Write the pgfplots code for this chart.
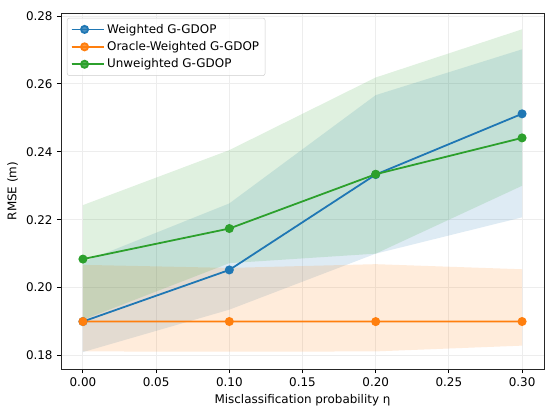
\documentclass[border=0pt]{standalone}
\usepackage{fontspec}
\setmainfont{DejaVu Sans}
\usepackage{pgfplots}
\pgfplotsset{compat=1.18}
\definecolor{tblue}{HTML}{1F77B4}
\definecolor{torange}{HTML}{FF7F0E}
\definecolor{tgreen}{HTML}{2CA02C}
\begin{document}
\fontsize{10}{12}\selectfont
\begin{tikzpicture}
\begin{axis}[
  scale only axis, width=404.7pt, height=298.3pt,
  xmin=-0.015, xmax=0.315, ymin=0.1760, ymax=0.2809,
  xtick={0,0.05,0.1,0.15,0.2,0.25,0.3},
  ytick={0.18,0.2,0.22,0.24,0.26,0.28},
  /pgf/number format/assume math mode=true,
  xticklabel style={/pgf/number format/.cd, fixed, fixed zerofill, precision=2},
  yticklabel style={/pgf/number format/.cd, fixed, fixed zerofill, precision=2},
  scaled ticks=false,
  tick align=outside, tick pos=left, major tick length=3.5pt,
  tick style={line width=0.8pt, black},
  grid=major, grid style={line width=0.8pt, color=black!7},
  axis line style={line width=0.8pt, black!85},
  tick label style={font=\fontsize{10}{12}\selectfont},
  label style={font=\fontsize{10}{12}\selectfont},
  xlabel={Misclassification probability η},
  ylabel={RMSE (m)},
  legend cell align=left,
  legend style={at={(0,1)}, xshift=5pt, yshift=-4pt, anchor=north west,
    draw=black!20, rounded corners=2pt, fill=white, fill opacity=0.8, text opacity=1,
    font=\fontsize{10}{12}\selectfont, row sep=1.5pt, inner sep=3pt},
  legend image code/.code={\path (0pt,0pt) -- (27pt,0pt);\draw[mark repeat=2, mark phase=2, #1] plot coordinates {(0pt,0pt)(10.8pt,0pt)(21.6pt,0pt)};},
]
% bands
\addplot[draw=none, fill=tblue, fill opacity=0.15, forget plot] coordinates {
 (0,0.2075) (0.1,0.2248) (0.2,0.2567) (0.3,0.2702)
 (0.3,0.2207) (0.2,0.2100) (0.1,0.1935) (0,0.1810)} -- cycle;
\addplot[draw=none, fill=torange, fill opacity=0.15, forget plot] coordinates {
 (0,0.2067) (0.1,0.2058) (0.2,0.2069) (0.3,0.2054)
 (0.3,0.1829) (0.2,0.1812) (0.1,0.1811) (0,0.1812)} -- cycle;
\addplot[draw=none, fill=tgreen, fill opacity=0.15, forget plot] coordinates {
 (0,0.2243) (0.1,0.2405) (0.2,0.2619) (0.3,0.2761)
 (0.3,0.2300) (0.2,0.2100) (0.1,0.2072) (0,0.1905)} -- cycle;
% lines
\addplot[tblue, line width=1.5pt, mark=*, mark size=3pt] coordinates {
 (0,0.1900) (0.1,0.2052) (0.2,0.2333) (0.3,0.2512)};
\addlegendentry{Weighted G-GDOP}
\addplot[torange, line width=1.5pt, mark=*, mark size=3pt] coordinates {
 (0,0.1900) (0.1,0.1900) (0.2,0.18998) (0.3,0.1900)};
\addlegendentry{Oracle-Weighted G-GDOP}
\addplot[tgreen, line width=1.5pt, mark=*, mark size=3pt] coordinates {
 (0,0.2084) (0.1,0.2174) (0.2,0.2334) (0.3,0.2441)};
\addlegendentry{Unweighted G-GDOP}
\end{axis}
\pgfresetboundingbox
\path[use as bounding box] (-51.1pt,-36pt) rectangle (409.7pt,309.2pt);
\end{tikzpicture}
\end{document}
